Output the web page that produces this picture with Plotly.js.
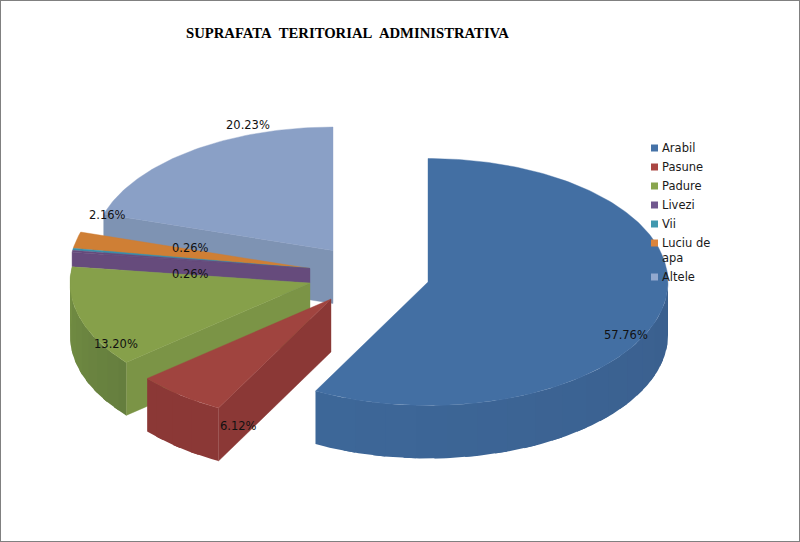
<!DOCTYPE html>
<html><head><meta charset="utf-8">
<script src="https://cdn.plot.ly/plotly-3.0.1.min.js"></script>
<style>html,body{margin:0;padding:0;background:#fff}#c{width:800px;height:542px}</style>
</head><body><div id="c"></div>
<script>
const categories = ["Arabil","Pasune","Padure","Livezi","Vii","Luciu de<br>apa","Altele"];
const values = [57.76,6.12,13.20,0.26,0.26,2.16,20.23];
const titleText = "SUPRAFATA\u00A0 TERITORIAL\u00A0 ADMINISTRATIVA";
const topColors = ["#436FA3","#A0443F","#86A04A","#664B7C","#3A8FAA","#CF7F35","#8AA0C6"];
const legendColors = ["#4572A7","#AA4643","#89A54E","#71588F","#4198AF","#DB843D","#93A9CF"];
const cutColors = ["#3C6494","#8B3836","#7B9446","#664B7C","#3A8FAA","#CF7F35","#7E93B3"];
const wallFrom = ["#3D6798","#8B3836","#738E43","#664B7C","#3A8FAA","#CF7F35","#7E93B3"];
const wallTo = ["#3A5F8E","#8B3836","#657E3E","#664B7C","#3A8FAA","#CF7F35","#7E93B3"];

const RX = 240, RY = 123.5, DEPTH = 53;
const centers = [[428,282],[331,299],[310,283],[310,268.5],[310,268.5],[310,268.5],[333,250.5]];
const labelAt = [[626,335],[238,426],[116,344],[190,274],[190,248],[107,215],[248,125]];
const FONT = "DejaVu Sans";

const total = values.reduce((a,b)=>a+b,0);
let run = 0;
const bounds = values.map(v=>{const a=run; run+=v/total*360; return [a,run];});
const rad = d=>d*Math.PI/180;
const pt = (c,a,dy=0)=>[c[0]+RX*Math.sin(rad(a)), c[1]-RY*Math.cos(rad(a))+dy];
function arc(c,a0,a1,dy=0){const n=Math.max(2,Math.ceil(Math.abs(a1-a0)));const o=[];for(let i=0;i<=n;i++)o.push(pt(c,a0+(a1-a0)*i/n,dy));return o;}
function poly(points,color,lw=0.4){
  const p=points.concat([points[0]]);
  return {type:"scatter",mode:"lines",x:p.map(q=>q[0]),y:p.map(q=>q[1]),fill:"toself",fillcolor:color,
    line:{color:color,width:lw},hoverinfo:"skip",showlegend:false};
}
function mix(a,b,t){const h=s=>[1,3,5].map(i=>parseInt(s.substr(i,2),16));const A=h(a),B=h(b);
  return "rgb("+A.map((v,i)=>Math.round(v+(B[i]-v)*t)).join(",")+")";}
function topFace(i){const c=centers[i];return poly([c].concat(arc(c,bounds[i][0],bounds[i][1])),topColors[i]);}
function cut(i,a,d){const c=centers[i];const p=pt(c,a);return poly([c,p,[p[0],p[1]+d],[c[0],c[1]+d]],cutColors[i]);}
// outer wall as overlapping strips, so no seams show between neighbours
function wall(i,a0,a1,strips){const c=centers[i];const out=[];
  for(let s=strips-1;s>=0;s--){const b0=a0+(a1-a0)*s/strips,b1=a0+(a1-a0)*(s+1+(s<strips-1?0.4:0))/strips;
    out.push(poly(arc(c,b0,b1).concat(arc(c,b1,b0,DEPTH)),mix(wallFrom[i],wallTo[i],strips>1?s/(strips-1):0),0));}
  return out;}

const traces=[];
// back to front
traces.push(cut(6,bounds[6][0],DEPTH),topFace(6));
traces.push(topFace(5),topFace(4));
traces.push(cut(3,bounds[3][0],14.5),topFace(3));
traces.push(cut(2,bounds[2][0],DEPTH),...wall(2,bounds[2][1],bounds[2][0],10),topFace(2));
traces.push(cut(1,bounds[1][0],DEPTH),...wall(1,bounds[1][0],bounds[1][1],4),topFace(1));
traces.push(...wall(0,bounds[0][1],90,16),topFace(0));

// legend
const LEG_X=654.5, legY=[148,167,186,205,224,243,277];
traces.push({type:"scatter",mode:"markers",x:legY.map(()=>LEG_X),y:legY,
  marker:{symbol:"square",size:7,color:legendColors,line:{width:0}},hoverinfo:"skip",showlegend:false});

const annotations=[];
categories.forEach((n,i)=>annotations.push({xref:"x",yref:"y",x:661,y:legY[i]-8,text:n,showarrow:false,
  xanchor:"left",yanchor:"top",align:"left",borderpad:0,font:{family:FONT,size:11.5,color:"#1a1a1a"}}));
values.forEach((v,i)=>annotations.push({xref:"x",yref:"y",x:labelAt[i][0],y:labelAt[i][1],text:v.toFixed(2)+"%",showarrow:false,
  xanchor:"center",yanchor:"middle",borderpad:0,font:{family:FONT,size:11.5,color:"#111"}}));
annotations.push({xref:"x",yref:"y",x:347,y:33,text:"<b>"+titleText+"</b>",showarrow:false,xanchor:"center",yanchor:"middle",
  font:{family:"Liberation Serif",size:14.7,color:"#000"}});

Plotly.newPlot("c",traces,{
  width:800,height:542,margin:{l:0,r:0,t:0,b:0},paper_bgcolor:"#fff",plot_bgcolor:"#fff",showlegend:false,
  xaxis:{range:[0,800],visible:false,fixedrange:true},
  yaxis:{range:[542,0],visible:false,fixedrange:true},
  annotations,
  shapes:[{type:"rect",xref:"paper",yref:"paper",x0:0,x1:1,y0:0,y1:1,line:{color:"#808080",width:2},fillcolor:"rgba(0,0,0,0)"}]
},{displayModeBar:false,staticPlot:true});
</script></body></html>
